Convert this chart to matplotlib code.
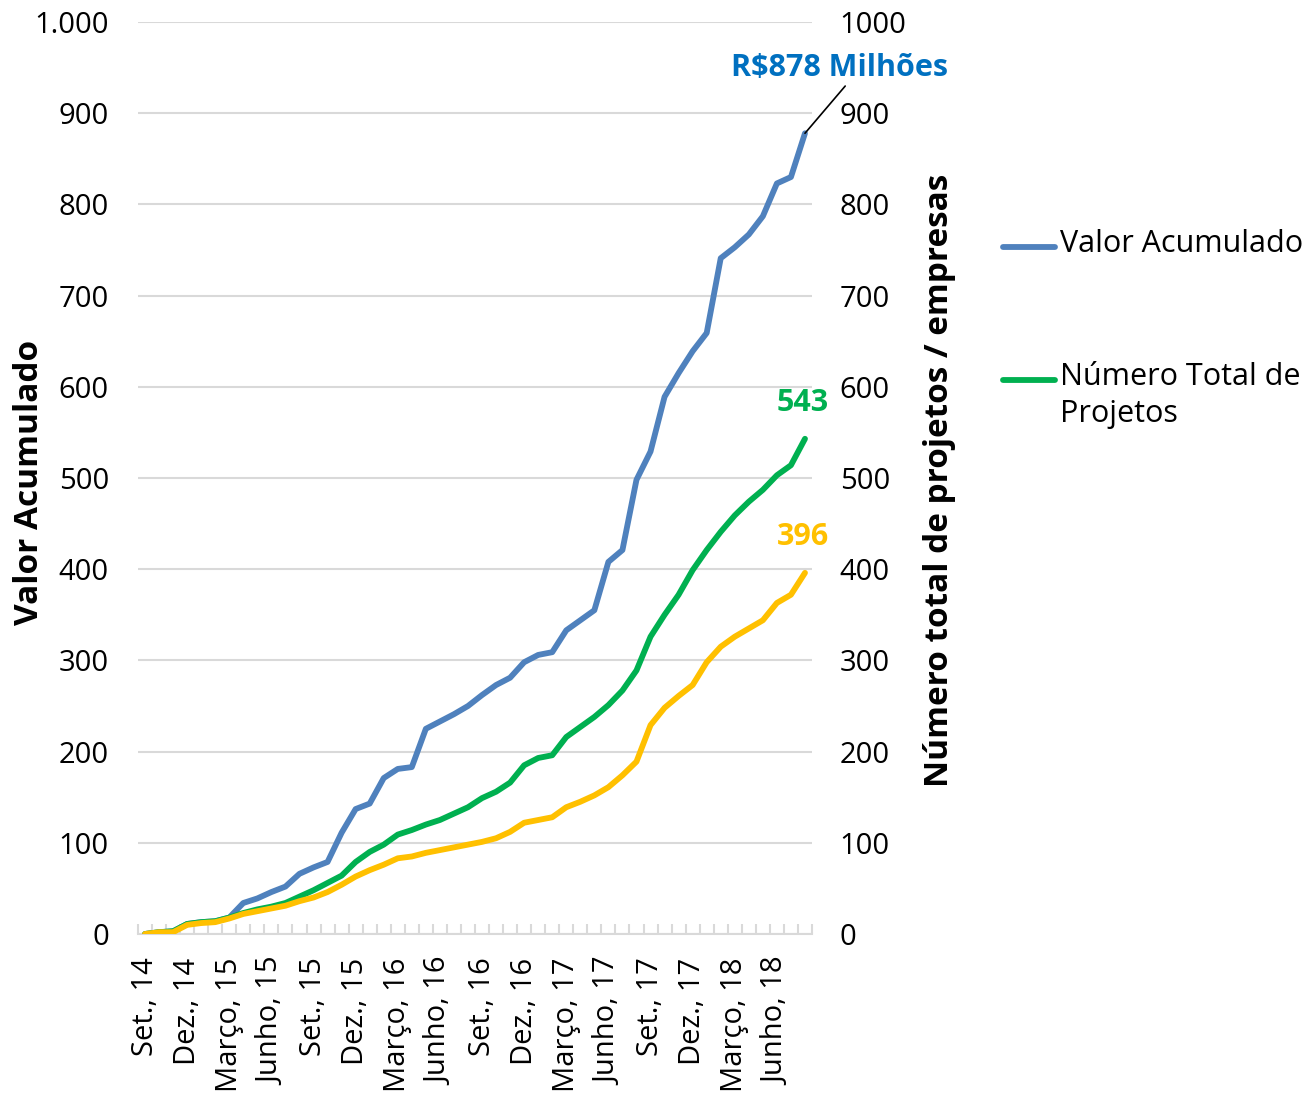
"""Valor acumulado e número total de projetos / empresas, Set. 2014 - Ago. 2018."""
import matplotlib
matplotlib.use("Agg")
import matplotlib.pyplot as plt
from matplotlib.lines import Line2D
import numpy as np

plt.rcParams["font.family"] = ["Open Sans", "DejaVu Sans"]

# 48 meses: Set. 2014 ... Ago. 2018
valor_acumulado = [0, 2, 3, 11, 13, 14, 18, 34, 39, 46, 52, 66,
                   73, 79, 111, 137, 143, 171, 181, 183, 225, 233, 241, 250,
                   262, 273, 281, 298, 306, 309, 333, 344, 355, 408, 421, 498,
                   529, 589, 615, 639, 659, 741, 753, 767, 787, 823, 830, 878]
num_projetos = [0, 2, 3, 11, 13, 14, 18, 23, 27, 30, 34, 41,
                48, 56, 64, 79, 90, 98, 109, 114, 120, 125, 132, 139,
                149, 156, 166, 185, 193, 196, 216, 227, 238, 251, 267, 289,
                326, 350, 372, 399, 421, 441, 459, 474, 487, 503, 514, 543]
num_empresas = [0, 2, 2, 10, 12, 13, 17, 22, 25, 28, 31, 36,
                40, 46, 54, 63, 70, 76, 83, 85, 89, 92, 95, 98,
                101, 105, 112, 122, 125, 128, 139, 145, 152, 161, 174, 189,
                229, 248, 261, 273, 298, 315, 326, 335, 344, 363, 372, 396]

tick_labels = ["Set., 14", "Dez., 14", "Março, 15", "Junho, 15", "Set., 15", "Dez., 15",
               "Março, 16", "Junho, 16", "Set., 16", "Dez., 16", "Março, 17", "Junho, 17",
               "Set., 17", "Dez., 17", "Março, 18", "Junho, 18"]

AZUL = "#4F81BD"
VERDE = "#00B050"
AMARELO = "#FFC000"
GRID = "#D9D9D9"

x = np.arange(len(valor_acumulado))

fig = plt.figure(figsize=(13.08, 11.02), dpi=100)
ax = fig.add_axes([138 / 1308, 1 - 934 / 1102, 674 / 1308, 912 / 1102])
ax2 = ax.twinx()

ax.plot(x, valor_acumulado, color=AZUL, lw=4.2, solid_capstyle="round", zorder=3)
ax2.plot(x, num_projetos, color=VERDE, lw=4.2, solid_capstyle="round", zorder=3)
ax2.plot(x, num_empresas, color=AMARELO, lw=4.2, solid_capstyle="round", zorder=4)

for a in (ax, ax2):
    a.set_ylim(0, 1000)
    a.set_xlim(-0.5, len(x) - 0.5)
    a.set_yticks(np.arange(0, 1001, 100))
    for s in a.spines.values():
        s.set_visible(False)
    a.tick_params(axis="y", length=0, labelsize=21)

ax.set_yticklabels([f"{v:,}".replace(",", ".") for v in range(0, 1001, 100)])
ax2.set_yticklabels([str(v) for v in range(0, 1001, 100)])
ax.tick_params(axis="y", pad=21)
ax2.tick_params(axis="y", pad=20)

ax.grid(axis="y", color=GRID, lw=1.5, zorder=0)
ax.set_axisbelow(True)
ax.spines["bottom"].set_visible(True)
ax.spines["bottom"].set_color(GRID)
ax.spines["bottom"].set_linewidth(1.5)

ax.set_xticks(x[::3])
ax.set_xticklabels(tick_labels, rotation=90, fontsize=21)
ax.tick_params(axis="x", which="major", length=0, pad=17)
ax.set_xticks(np.arange(-0.5, len(x), 1), minor=True)
ax.tick_params(axis="x", which="minor", direction="in", length=7, width=1.5, color=GRID)

# rótulos dos eixos
fig.text(30 / 1308, 1 - 482 / 1102, "Valor Acumulado", rotation=90, ha="center",
         va="center", fontsize=24, fontweight="bold")
fig.text(940 / 1308, 1 - 480 / 1102, "Número total de projetos / empresas", rotation=90,
         ha="center", va="center", fontsize=24, fontweight="bold")

# anotações dos últimos valores
ax.annotate(f"R${valor_acumulado[-1]} Milhões", xy=(x[-1], valor_acumulado[-1]),
            xytext=(35, 65), textcoords="offset pixels", ha="center", va="center",
            fontsize=22, fontweight="bold", color="#0070C0",
            arrowprops=dict(arrowstyle="-", color="black", lw=1.2,
                            relpos=(0.535, 0), shrinkA=0, shrinkB=0))
ax2.annotate(str(num_projetos[-1]), xy=(x[-1], num_projetos[-1]), xytext=(-2, 36),
             textcoords="offset pixels", ha="center", va="center",
             fontsize=22, fontweight="bold", color=VERDE)
ax2.annotate(str(num_empresas[-1]), xy=(x[-1], num_empresas[-1]), xytext=(-2, 36),
             textcoords="offset pixels", ha="center", va="center",
             fontsize=22, fontweight="bold", color=AMARELO)

# legenda (alinhada à primeira linha do texto, como no Excel)
for y_px, cor, texto in [(247, AZUL, "Valor Acumulado"),
                         (380, VERDE, "Número Total de\nProjetos")]:
    yf = 1 - y_px / 1102
    fig.add_artist(Line2D([1003 / 1308, 1055 / 1308], [yf, yf], color=cor, lw=4.2,
                          solid_capstyle="round", transform=fig.transFigure))
    fig.text(1060 / 1308, yf + 18 / 1102, texto, ha="left", va="top", fontsize=22,
             linespacing=1.3)

fig.savefig("out.png", dpi=100)
